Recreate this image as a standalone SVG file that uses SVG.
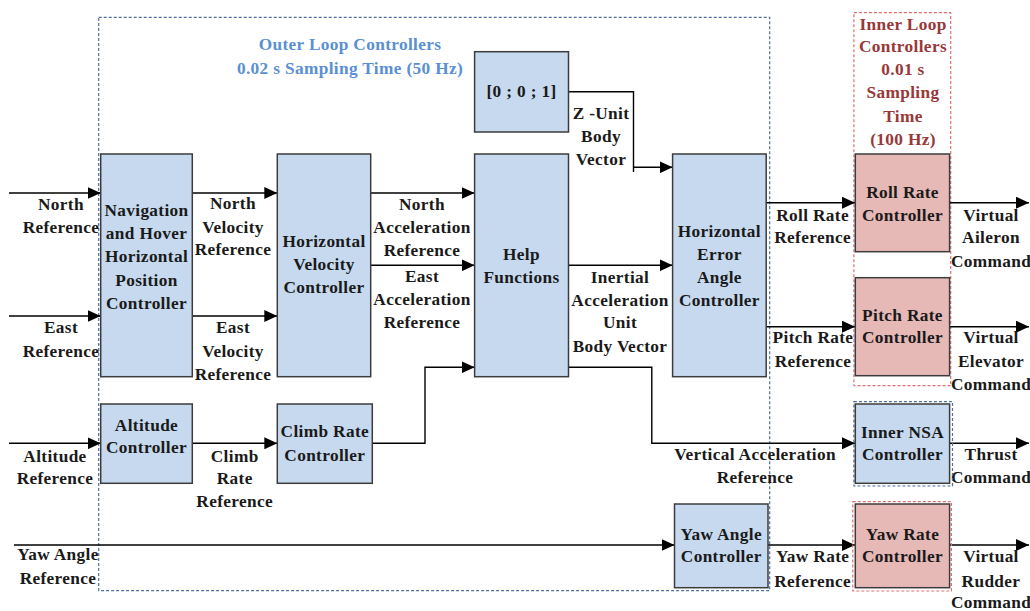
<svg xmlns="http://www.w3.org/2000/svg" width="1030" height="611" viewBox="0 0 1030 611">
  <style>
    .blk { fill: #c6d9ef; stroke: #3c3c3c; stroke-width: 1.5; }
    .inner { fill: #e6b8b6; stroke: #3c3c3c; stroke-width: 1.5; }
    .grp-blue { fill: none; stroke: #4f6f9f; stroke-width: 1.2; stroke-dasharray: 3 2; }
    .grp-red { fill: none; stroke: #e07070; stroke-width: 1.2; stroke-dasharray: 3 2; }
    .wire { fill: none; stroke: #000; stroke-width: 1.4; }
    text { font-family: "Liberation Serif", "Times New Roman", serif; font-weight: bold; font-size: 17.3px; fill: #1a1a1a; text-anchor: middle; letter-spacing: 0.35px; }
    .t-outer { fill: #5b8fd3; }
    .t-inner { fill: #993838; }
  </style>
  <defs>
    <marker id="arrow" markerUnits="userSpaceOnUse" markerWidth="14" markerHeight="12" refX="13" refY="6" orient="auto">
      <path d="M0,0 L13,6 L0,12 z" fill="#000"/>
    </marker>
  </defs>

  <rect width="1030" height="611" fill="#fff"/>

  <!-- sampling-rate groups -->
  <g id="outer-loop-group">
    <rect class="grp-blue" x="98.7" y="17.3" width="671" height="573.4"/>
    <text class="t-outer" x="350" y="50">Outer Loop Controllers</text>
    <text class="t-outer" x="350" y="74">0.02 s Sampling Time (50 Hz)</text>
  </g>
  <g id="inner-loop-group">
    <rect class="grp-red" x="853.9" y="12.7" width="96.8" height="373"/>
    <text class="t-inner" x="903" y="30">Inner Loop</text>
    <text class="t-inner" x="903" y="52.3">Controllers</text>
    <text class="t-inner" x="903" y="75">0.01 s</text>
    <text class="t-inner" x="903" y="98.3">Sampling</text>
    <text class="t-inner" x="903" y="121.7">Time</text>
    <text class="t-inner" x="903" y="145">(100 Hz)</text>
  </g>

  <!-- signal connectors -->
  <g id="connectors">
    <path class="wire" d="M9,193 H100.7" marker-end="url(#arrow)"/>
    <path class="wire" d="M9,316 H100.7" marker-end="url(#arrow)"/>
    <path class="wire" d="M192.3,193 H277.3" marker-end="url(#arrow)"/>
    <path class="wire" d="M192.3,316 H277.3" marker-end="url(#arrow)"/>
    <path class="wire" d="M370.7,193 H474.6" marker-end="url(#arrow)"/>
    <path class="wire" d="M370.7,265.3 H474.6" marker-end="url(#arrow)"/>
    <path class="wire" d="M372.3,443.3 H425 V367.3 H474.6" marker-end="url(#arrow)"/>
    <path class="wire" d="M568.5,91.7 H633.5 V172"/>
    <path class="wire" d="M633.5,167.3 H672.6" marker-end="url(#arrow)"/>
    <path class="wire" d="M568.5,265.3 H672.6" marker-end="url(#arrow)"/>
    <path class="wire" d="M568.5,367.3 H651.8 V443.3 H855" marker-end="url(#arrow)"/>
    <path class="wire" d="M766.2,202.7 H855" marker-end="url(#arrow)"/>
    <path class="wire" d="M766.2,326.7 H855" marker-end="url(#arrow)"/>
    <path class="wire" d="M949.6,202.7 H1029" marker-end="url(#arrow)"/>
    <path class="wire" d="M949.6,326.7 H1029" marker-end="url(#arrow)"/>
    <path class="wire" d="M949.6,443.3 H1029" marker-end="url(#arrow)"/>
    <path class="wire" d="M9,443.3 H100.7" marker-end="url(#arrow)"/>
    <path class="wire" d="M192.3,443.3 H277.3" marker-end="url(#arrow)"/>
    <path class="wire" d="M14,545 H674.5" marker-end="url(#arrow)"/>
    <path class="wire" d="M768,545 H855" marker-end="url(#arrow)"/>
    <path class="wire" d="M949.6,545 H1029" marker-end="url(#arrow)"/>
  </g>

  <!-- connector labels -->
  <g id="labels">
    <text x="61" y="210">North</text>
    <text x="61" y="232.7">Reference</text>
    <text x="61" y="333.3">East</text>
    <text x="61" y="356.7">Reference</text>
    <text x="233" y="209.3">North</text>
    <text x="233" y="232.7">Velocity</text>
    <text x="233" y="255">Reference</text>
    <text x="233" y="333.3">East</text>
    <text x="233" y="356.7">Velocity</text>
    <text x="233" y="380">Reference</text>
    <text x="422" y="210">North</text>
    <text x="422" y="233.3">Acceleration</text>
    <text x="422" y="256">Reference</text>
    <text x="422" y="281.7">East</text>
    <text x="422" y="305">Acceleration</text>
    <text x="422" y="328.3">Reference</text>
    <text x="601" y="119">Z -Unit</text>
    <text x="601" y="141.7">Body</text>
    <text x="601" y="165">Vector</text>
    <text x="620" y="282.7">Inertial</text>
    <text x="620" y="305.7">Acceleration</text>
    <text x="620" y="328.3">Unit</text>
    <text x="620" y="351.7">Body Vector</text>
    <text x="812.6" y="220.7">Roll Rate</text>
    <text x="812.6" y="243.3">Reference</text>
    <text x="813" y="343.3">Pitch Rate</text>
    <text x="813" y="366.7">Reference</text>
    <text x="991" y="220.7">Virtual</text>
    <text x="991" y="243.3">Aileron</text>
    <text x="991" y="266.7">Command</text>
    <text x="991" y="343.3">Virtual</text>
    <text x="991" y="366.7">Elevator</text>
    <text x="991" y="390">Command</text>
    <text x="755" y="460">Vertical Acceleration</text>
    <text x="755" y="483.3">Reference</text>
    <text x="991" y="460">Thrust</text>
    <text x="991" y="483.3">Command</text>
    <text x="55" y="461.7">Altitude</text>
    <text x="55" y="484.3">Reference</text>
    <text x="234.7" y="461.7">Climb</text>
    <text x="234.7" y="484.3">Rate</text>
    <text x="234.7" y="506.7">Reference</text>
    <text x="58" y="560">Yaw Angle</text>
    <text x="58" y="584.3">Reference</text>
    <text x="812.6" y="562.3">Yaw Rate</text>
    <text x="812.6" y="586.7">Reference</text>
    <text x="991" y="562.3">Virtual</text>
    <text x="991" y="586.7">Rudder</text>
    <text x="991" y="608.3">Command</text>
  </g>

  <!-- controller blocks -->
  <g id="nav-position-controller">
    <rect class="blk" x="100.7" y="154" width="91.6" height="222.7"/>
    <text x="146.5" y="215.7">Navigation</text>
    <text x="146.5" y="239.3">and Hover</text>
    <text x="146.5" y="262.3">Horizontal</text>
    <text x="146.5" y="286">Position</text>
    <text x="146.5" y="309">Controller</text>
  </g>
  <g id="horizontal-velocity-controller">
    <rect class="blk" x="277.3" y="154" width="93.4" height="222.7"/>
    <text x="324" y="246.7">Horizontal</text>
    <text x="324" y="270">Velocity</text>
    <text x="324" y="293.3">Controller</text>
  </g>
  <g id="z-unit-constant">
    <rect class="blk" x="474.6" y="51.7" width="93.9" height="80.3"/>
    <text x="521.5" y="96.7">[0 ; 0 ; 1]</text>
  </g>
  <g id="help-functions">
    <rect class="blk" x="474.6" y="154" width="93.9" height="222.7"/>
    <text x="521.5" y="260">Help</text>
    <text x="521.5" y="282.7">Functions</text>
  </g>
  <g id="horizontal-error-angle-controller">
    <rect class="blk" x="672.6" y="154" width="93.6" height="222.7"/>
    <text x="719.4" y="237.3">Horizontal</text>
    <text x="719.4" y="260">Error</text>
    <text x="719.4" y="282.7">Angle</text>
    <text x="719.4" y="305.7">Controller</text>
  </g>
  <g id="altitude-controller">
    <rect class="blk" x="100.7" y="404" width="91.6" height="79.3"/>
    <text x="146.5" y="430.7">Altitude</text>
    <text x="146.5" y="453.3">Controller</text>
  </g>
  <g id="climb-rate-controller">
    <rect class="blk" x="277.3" y="404" width="95" height="79.3"/>
    <text x="324.8" y="436.7">Climb Rate</text>
    <text x="324.8" y="460.7">Controller</text>
  </g>
  <g id="yaw-angle-controller">
    <rect class="blk" x="674.5" y="504" width="93.5" height="83.7"/>
    <text x="721.3" y="540">Yaw Angle</text>
    <text x="721.3" y="562.3">Controller</text>
  </g>
  <g id="roll-rate-controller">
    <rect class="inner" x="855.3" y="154" width="94.3" height="97.7"/>
    <text x="902.5" y="198.3">Roll Rate</text>
    <text x="902.5" y="220.7">Controller</text>
  </g>
  <g id="pitch-rate-controller">
    <rect class="inner" x="855.3" y="277.7" width="94.3" height="98"/>
    <text x="902.5" y="320.7">Pitch Rate</text>
    <text x="902.5" y="343.3">Controller</text>
  </g>
  <g id="inner-nsa-controller">
    <rect class="grp-blue" x="853.9" y="401.7" width="98.6" height="84.3"/>
    <rect class="blk" x="855.3" y="404" width="94.3" height="79.3"/>
    <text x="902.5" y="438.3">Inner NSA</text>
    <text x="902.5" y="460">Controller</text>
  </g>
  <g id="yaw-rate-controller">
    <rect class="grp-red" x="852.8" y="501.7" width="98.6" height="89.3"/>
    <rect class="inner" x="855.3" y="504" width="94.3" height="83.7"/>
    <text x="902.5" y="540">Yaw Rate</text>
    <text x="902.5" y="562.3">Controller</text>
  </g>
</svg>
